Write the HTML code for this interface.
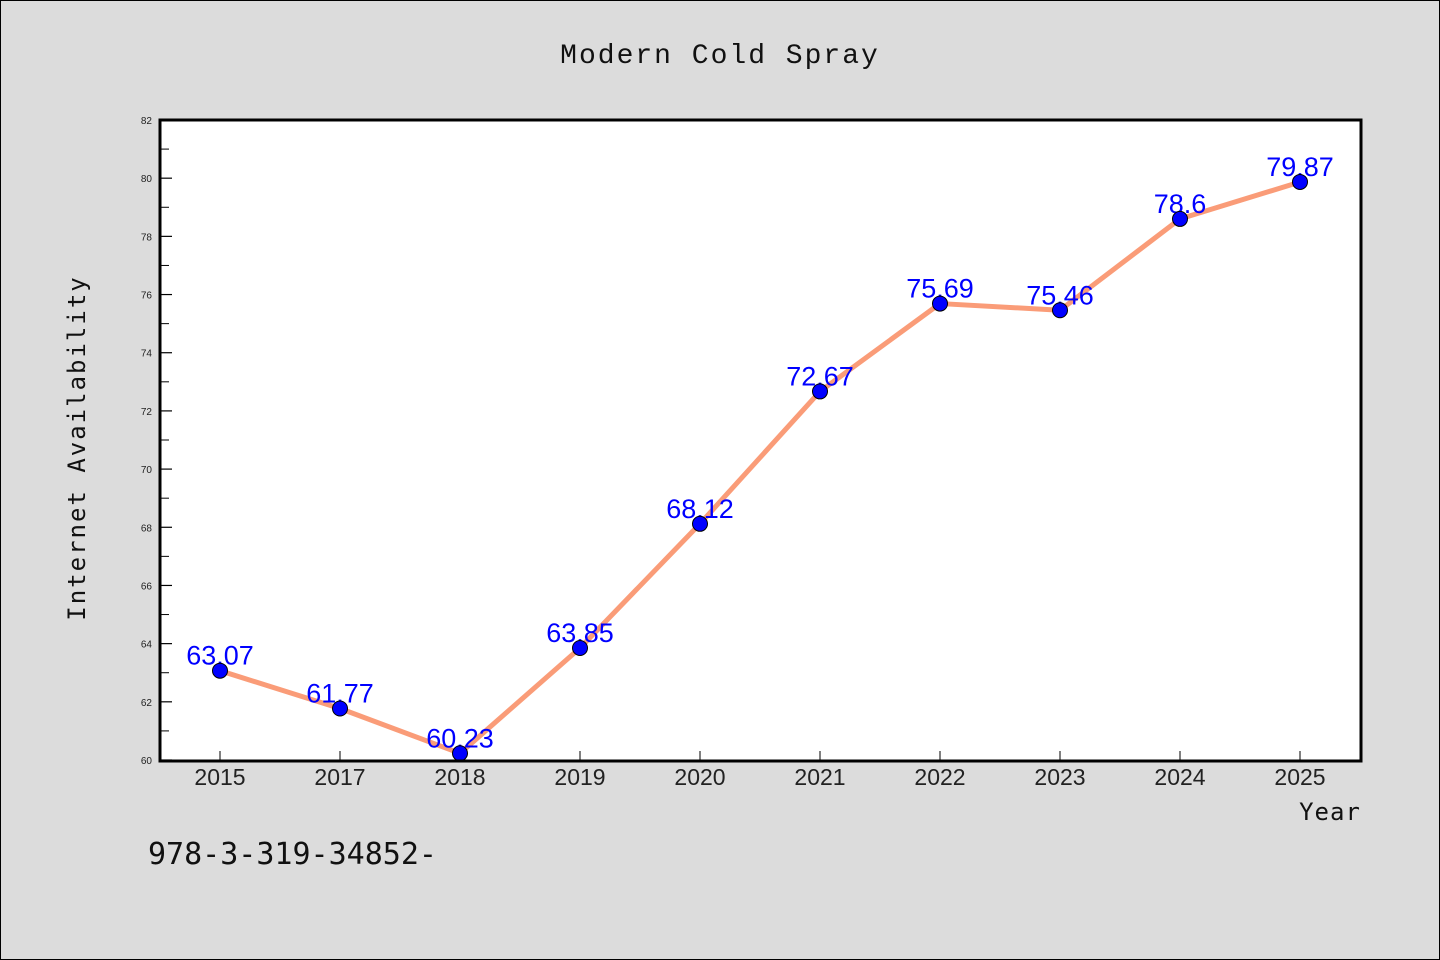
<!DOCTYPE html>
<html><head><meta charset="utf-8"><style>
html,body{margin:0;padding:0;background:#dcdcdc;}
svg{display:block;font-family:"Liberation Sans","WenQuanYi Zen Hei",sans-serif;}
</style></head><body>
<svg id="chart" width="1440" height="960">
<rect x="0.5" y="0.5" width="1439" height="959" fill="#dcdcdc" stroke="#000" stroke-width="1"/>
<text x="720" y="63" text-anchor="middle" font-size="28" letter-spacing="2" font-family="'WenQuanYi Zen Hei','Liberation Mono',monospace" fill="#111">Modern Cold Spray</text>
<rect x="160" y="120" width="1201" height="641" fill="#fff"/>
<g id="axes"></g>
<g id="marks"></g>
<rect x="160" y="120" width="1201" height="641" fill="none" stroke="#000" stroke-width="3"/>
<text x="1330" y="820" text-anchor="middle" font-size="24" letter-spacing="1" font-family="'WenQuanYi Zen Hei',monospace" fill="#111">Year</text>
<text transform="translate(85,448) rotate(-90)" text-anchor="middle" font-size="24" letter-spacing="2" font-family="'WenQuanYi Zen Hei',monospace" fill="#111">Internet Availability</text>
<text x="148" y="864" font-size="30" font-family="'WenQuanYi Zen Hei',monospace" fill="#111">978-3-319-34852-</text>
</svg>
<script>
const categories = ["2015","2017","2018","2019","2020","2021","2022","2023","2024","2025"];
const values = [63.07,61.77,60.23,63.85,68.12,72.67,75.69,75.46,78.6,79.87];
const valueLabels = ["63.07","61.77","60.23","63.85","68.12","72.67","75.69","75.46","78.6","79.87"];
const yTicks = [60,62,64,66,68,70,72,74,76,78,80,82];
const NS="http://www.w3.org/2000/svg";
const yMin=60,yMax=82,yTopPx=120,yBotPx=760;
function yScale(v){return yBotPx-(v-yMin)/(yMax-yMin)*(yBotPx-yTopPx);}
function xScale(i){return 220+i*120;}
function mk(t,a,p){const e=document.createElementNS(NS,t);for(const k in a)e.setAttribute(k,a[k]);p.appendChild(e);return e;}
const axesG=document.getElementById('axes'),marksG=document.getElementById('marks');
yTicks.forEach(v=>{
  const t=mk('line',{x1:160,x2:172,y1:yScale(v),y2:yScale(v),stroke:'#000','stroke-width':1.2},axesG);
  
  
  const l=mk('text',{x:152,y:yScale(v)+4,'text-anchor':'end','font-size':10,fill:'#222'},axesG);
  l.textContent=v;
  
  
});
for(let i=0;i<yTicks.length-1;i++){
  const v=(yTicks[i]+yTicks[i+1])/2;
  const t=mk('line',{x1:160,x2:169,y1:yScale(v),y2:yScale(v),stroke:'#000','stroke-width':1},axesG);
  
  
}
categories.forEach((c,i)=>{
  const t=mk('line',{x1:xScale(i),x2:xScale(i),y1:760,y2:751,stroke:'#000','stroke-width':1},axesG);
  
  
  const l=mk('text',{x:xScale(i),y:785,'text-anchor':'middle','font-size':23,fill:'#222'},axesG);
  l.textContent=c;
  
  
});
const pts=values.map((v,i)=>xScale(i)+','+yScale(v)).join(' ');
const line=mk('polyline',{points:pts,fill:'none',stroke:'#fa9c78','stroke-width':5,'stroke-linejoin':'round'},marksG);


values.forEach((v,i)=>{
  const l=mk('text',{x:xScale(i),y:yScale(v)-6,'text-anchor':'middle','font-size':27,fill:'#0000ff'},marksG);
  l.textContent=valueLabels[i];
  
  
});
values.forEach((v,i)=>{
  const c=mk('circle',{cx:xScale(i),cy:yScale(v),r:7.5,fill:'#0000ff',stroke:'#000','stroke-width':1},marksG);
  
  
});
</script>
</body></html>
